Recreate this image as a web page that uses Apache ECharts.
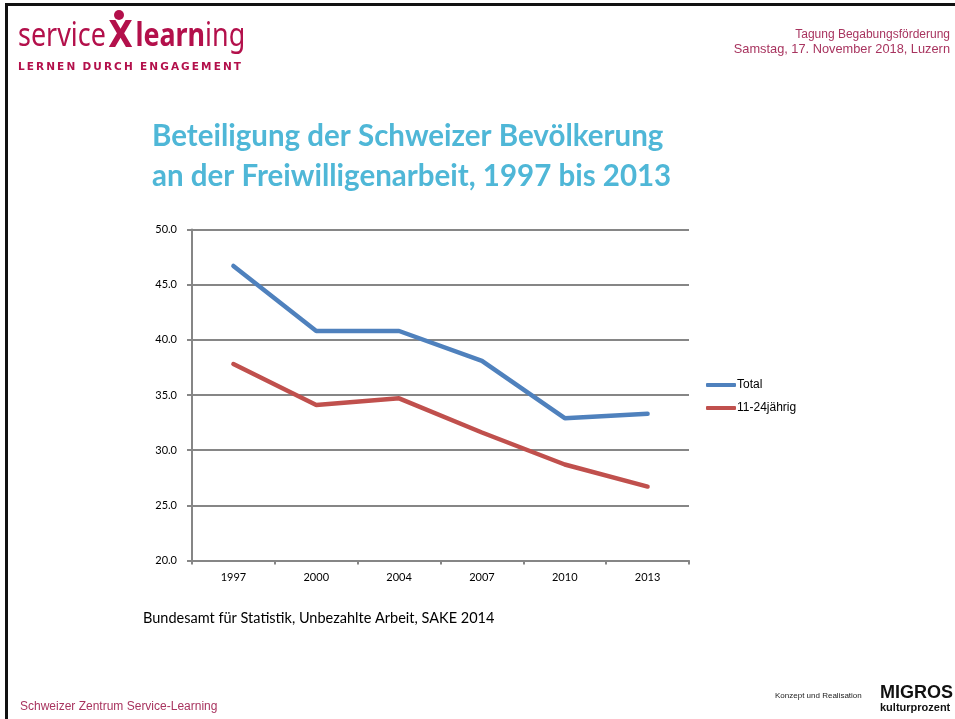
<!DOCTYPE html>
<html>
<head>
<meta charset="utf-8">
<script src="https://cdn.jsdelivr.net/npm/echarts@6/dist/echarts.min.js"></script>
<style>
  html, body { margin: 0; padding: 0; background: #fff; }
  #chart { width: 955px; height: 719px; }
</style>
</head>
<body>
<div id="chart"></div>
<script>
var years = ['1997', '2000', '2004', '2007', '2010', '2013'];
var totalList = [46.7, 40.8, 40.8, 38.1, 32.9, 33.3];
var youthList = [37.8, 34.1, 34.7, 31.6, 28.7, 26.7];
var seriesNames = ['Total', '11-24jährig'];
var yMin = 20, yMax = 50, yStep = 5;

var crimson = '#b3104b';
var grey = '#868686';

var chart = echarts.init(document.getElementById('chart'));

var option = {
  animation: false,
  backgroundColor: '#fff',
  graphic: [
    // Rahmen
    { type: 'rect', shape: { x: 5, y: 3, width: 950, height: 3 }, style: { fill: '#111' } },
    { type: 'rect', shape: { x: 5, y: 3, width: 3, height: 716 }, style: { fill: '#111' } },
    // Logo
    {
      type: 'text', x: 18, y: 18, scaleX: 0.84,
      style: {
        text: '{a|service}{b|X}{c|learn}{a|ing}',
        rich: {
          a: { fontFamily: '"Noto Sans", sans-serif', fontSize: 32, fill: crimson },
          b: { fontFamily: '"DejaVu Sans", sans-serif', fontWeight: 'bold', fontSize: 38, fill: crimson, padding: [0, 3, 0, 3] },
          c: { fontFamily: '"Noto Sans", sans-serif', fontWeight: 'bold', fontSize: 32, fill: crimson }
        }
      }
    },
    { type: 'circle', shape: { cx: 119, cy: 15, r: 5 }, style: { fill: crimson } },
    { type: 'text', left: 18, top: 62, style: { text: 'L\u2009E\u2009R\u2009N\u2009E\u2009N  D\u2009U\u2009R\u2009C\u2009H  E\u2009N\u2009G\u2009A\u2009G\u2009E\u2009M\u2009E\u2009N\u2009T', font: 'bold 10.5px "DejaVu Sans", sans-serif', fill: crimson } },
    // Kopfzeile rechts
    { type: 'text', right: 5, top: 29, style: { text: 'Tagung Begabungsförderung', font: '12px "Liberation Sans", Arial, sans-serif', fill: '#a8345f', align: 'right' } },
    { type: 'text', right: 5, top: 43, style: { text: 'Samstag, 17. November 2018, Luzern', font: '12.8px "Liberation Sans", Arial, sans-serif', fill: '#a8345f', align: 'right' } },
    // Titel
    { type: 'text', left: 152, top: 116, style: { text: 'Beteiligung der Schweizer Bevölkerung\nan der Freiwilligenarbeit, 1997 bis 2013', font: 'bold 29.5px Lato, "Open Sans", sans-serif', lineHeight: 40, fill: '#4fb7d7' } },
    // Quelle
    { type: 'text', left: 143, top: 611, style: { text: 'Bundesamt für Statistik, Unbezahlte Arbeit, SAKE 2014', font: '14.5px Lato, "Open Sans", sans-serif', fill: '#000' } },
    // Fusszeile
    { type: 'text', left: 20, top: 701, style: { text: 'Schweizer Zentrum Service-Learning', font: '12px "Liberation Sans", Arial, sans-serif', fill: '#a8345f' } },
    { type: 'text', left: 775, top: 692, style: { text: 'Konzept und Realisation', font: '8px "Liberation Sans", Arial, sans-serif', fill: '#222' } },
    { type: 'text', left: 880, top: 684, style: { text: 'MIGROS', font: 'bold 18px "Liberation Sans", Arial, sans-serif', fill: '#111' } },
    { type: 'text', left: 880, top: 702, style: { text: 'kulturprozent', font: 'bold 11px "Liberation Sans", Arial, sans-serif', fill: '#111' } }
  ],
  legend: {
    orient: 'vertical',
    left: 701,
    top: 374,
    itemWidth: 30,
    itemHeight: 4,
    itemGap: 11,
    icon: 'roundRect',
    data: seriesNames,
    textStyle: { fontFamily: '"Liberation Sans", Arial, sans-serif', fontSize: 12, color: '#000', padding: [0, 0, 0, -4] }
  },
  grid: { left: 192, right: 266, top: 229.5, bottom: 158.5, containLabel: false },
  xAxis: {
    type: 'category',
    data: years,
    boundaryGap: true,
    axisLine: { lineStyle: { color: grey, width: 2 } },
    axisTick: { show: true, length: 4, lineStyle: { color: grey, width: 2 } },
    axisLabel: { color: '#000', fontSize: 11, fontFamily: 'Lato, "Open Sans", sans-serif', margin: 11 }
  },
  yAxis: {
    type: 'value',
    min: yMin,
    max: yMax,
    interval: yStep,
    axisLine: { show: true, lineStyle: { color: grey, width: 2 } },
    axisTick: { show: true, length: 5, lineStyle: { color: grey, width: 2 } },
    splitLine: { lineStyle: { color: grey, width: 2 } },
    axisLabel: {
      color: '#000', fontSize: 11, fontFamily: 'Lato, "Open Sans", sans-serif', margin: 15,
      formatter: function (v) { return v.toFixed(1); }
    }
  },
  series: [{
    name: seriesNames[0],
    type: 'line',
    data: totalList,
    symbol: 'none',
    color: '#4f81bd',
    lineStyle: { width: 4.5, color: '#4f81bd', cap: 'round' }
  }, {
    name: seriesNames[1],
    type: 'line',
    data: youthList,
    symbol: 'none',
    color: '#c0504d',
    lineStyle: { width: 4.5, color: '#c0504d', cap: 'round' }
  }]
};

chart.setOption(option);
</script>
</body>
</html>
